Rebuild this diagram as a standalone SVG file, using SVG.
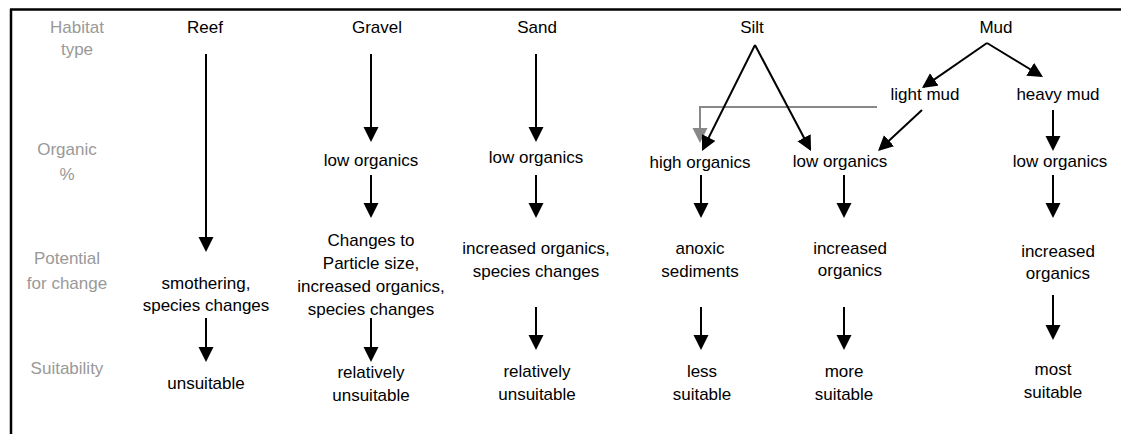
<svg xmlns="http://www.w3.org/2000/svg" width="1121" height="434" viewBox="0 0 1121 434">
<style>
text{font-family:"Liberation Sans",Arial,sans-serif;font-size:17px;fill:#000;text-anchor:middle}
text.lab{fill:#999}
.c{stroke:#000;stroke-width:2;fill:none;marker-end:url(#ah)}
.g{stroke:#888;stroke-width:2;fill:none;marker-end:url(#ahg)}
</style>
<defs>
<marker id="ah" viewBox="0 0 16 16" refX="13" refY="7.5" markerWidth="16" markerHeight="16" markerUnits="userSpaceOnUse" orient="auto"><path d="M0,0 L15,7.5 L0,15 z" fill="#000"/></marker>
<marker id="ahg" viewBox="0 0 16 16" refX="13" refY="7.5" markerWidth="16" markerHeight="16" markerUnits="userSpaceOnUse" orient="auto"><path d="M0,0 L15,7.5 L0,15 z" fill="#888"/></marker>
</defs>
<rect width="1121" height="434" fill="#fff"/>
<g id="frame" stroke="#000" stroke-width="2.5"><line x1="10" y1="9.5" x2="1121" y2="9.5"/><line x1="11" y1="9" x2="11" y2="434"/></g>
<g id="row-labels">
<text class="lab" x="77" y="33">Habitat</text><text class="lab" x="77" y="55">type</text>
<text class="lab" x="67" y="155">Organic</text><text class="lab" x="67" y="180">%</text>
<text class="lab" x="67" y="264">Potential</text><text class="lab" x="67" y="289">for change</text>
<text class="lab" x="67" y="374">Suitability</text>
</g>
<g id="reef"><text x="205" y="33">Reef</text></g>
<g id="reef-change"><text x="206" y="289">smothering,</text><text x="206" y="311">species changes</text></g>
<g id="reef-suit"><text x="206" y="389">unsuitable</text></g>
<g id="gravel"><text x="377" y="33">Gravel</text></g>
<g id="gravel-org"><text x="371" y="166">low organics</text></g>
<g id="gravel-change"><text x="371" y="246">Changes to</text><text x="371" y="269">Particle size,</text><text x="371" y="292">increased organics,</text><text x="371" y="315">species changes</text></g>
<g id="gravel-suit"><text x="371" y="378">relatively</text><text x="371" y="401">unsuitable</text></g>
<g id="sand"><text x="537" y="33">Sand</text></g>
<g id="sand-org"><text x="536" y="163">low organics</text></g>
<g id="sand-change"><text x="536" y="254">increased organics,</text><text x="536" y="277">species changes</text></g>
<g id="sand-suit"><text x="537" y="377">relatively</text><text x="537" y="400">unsuitable</text></g>
<g id="silt"><text x="752" y="33">Silt</text></g>
<g id="silt-high"><text x="700" y="168">high organics</text></g>
<g id="silt-low"><text x="840" y="167">low organics</text></g>
<g id="anoxic"><text x="700" y="254">anoxic</text><text x="700" y="277">sediments</text></g>
<g id="silt-incr"><text x="850" y="254">increased</text><text x="850" y="276">organics</text></g>
<g id="less"><text x="702" y="377">less</text><text x="702" y="400">suitable</text></g>
<g id="more"><text x="844" y="377">more</text><text x="844" y="400">suitable</text></g>
<g id="mud"><text x="996" y="33">Mud</text></g>
<g id="light-mud"><text x="925" y="100">light mud</text></g>
<g id="heavy-mud"><text x="1058" y="100">heavy mud</text></g>
<g id="mud-low"><text x="1060" y="167">low organics</text></g>
<g id="mud-incr"><text x="1058" y="257">increased</text><text x="1058" y="279">organics</text></g>
<g id="most"><text x="1053" y="375">most</text><text x="1053" y="398">suitable</text></g>
<g id="connectors">
<line class="c" x1="206" y1="54" x2="206" y2="250"/>
<line class="c" x1="206" y1="318" x2="206" y2="360"/>
<line class="c" x1="371" y1="54" x2="371" y2="140"/>
<line class="c" x1="371" y1="175" x2="371" y2="216"/>
<line class="c" x1="371" y1="318" x2="371" y2="360"/>
<line class="c" x1="536" y1="54" x2="536" y2="140"/>
<line class="c" x1="536" y1="175" x2="536" y2="216"/>
<line class="c" x1="536" y1="307" x2="536" y2="348"/>
<path class="g" d="M877,107 H700 V141"/>
<line class="c" x1="755" y1="45" x2="702.9" y2="149.2"/>
<line class="c" x1="755" y1="45" x2="810.1" y2="149.2"/>
<line class="c" x1="987" y1="43" x2="923.6" y2="86.9"/>
<line class="c" x1="987" y1="43" x2="1041.3" y2="76"/>
<line class="c" x1="922" y1="110" x2="879.5" y2="149.6"/>
<line class="c" x1="1053" y1="110" x2="1053" y2="149"/>
<line class="c" x1="701" y1="175" x2="701" y2="216"/>
<line class="c" x1="844" y1="175" x2="844" y2="216"/>
<line class="c" x1="1053" y1="175" x2="1053" y2="216"/>
<line class="c" x1="701" y1="307" x2="701" y2="348"/>
<line class="c" x1="844" y1="307" x2="844" y2="348"/>
<line class="c" x1="1053" y1="295" x2="1053" y2="338"/>
</g>
</svg>
